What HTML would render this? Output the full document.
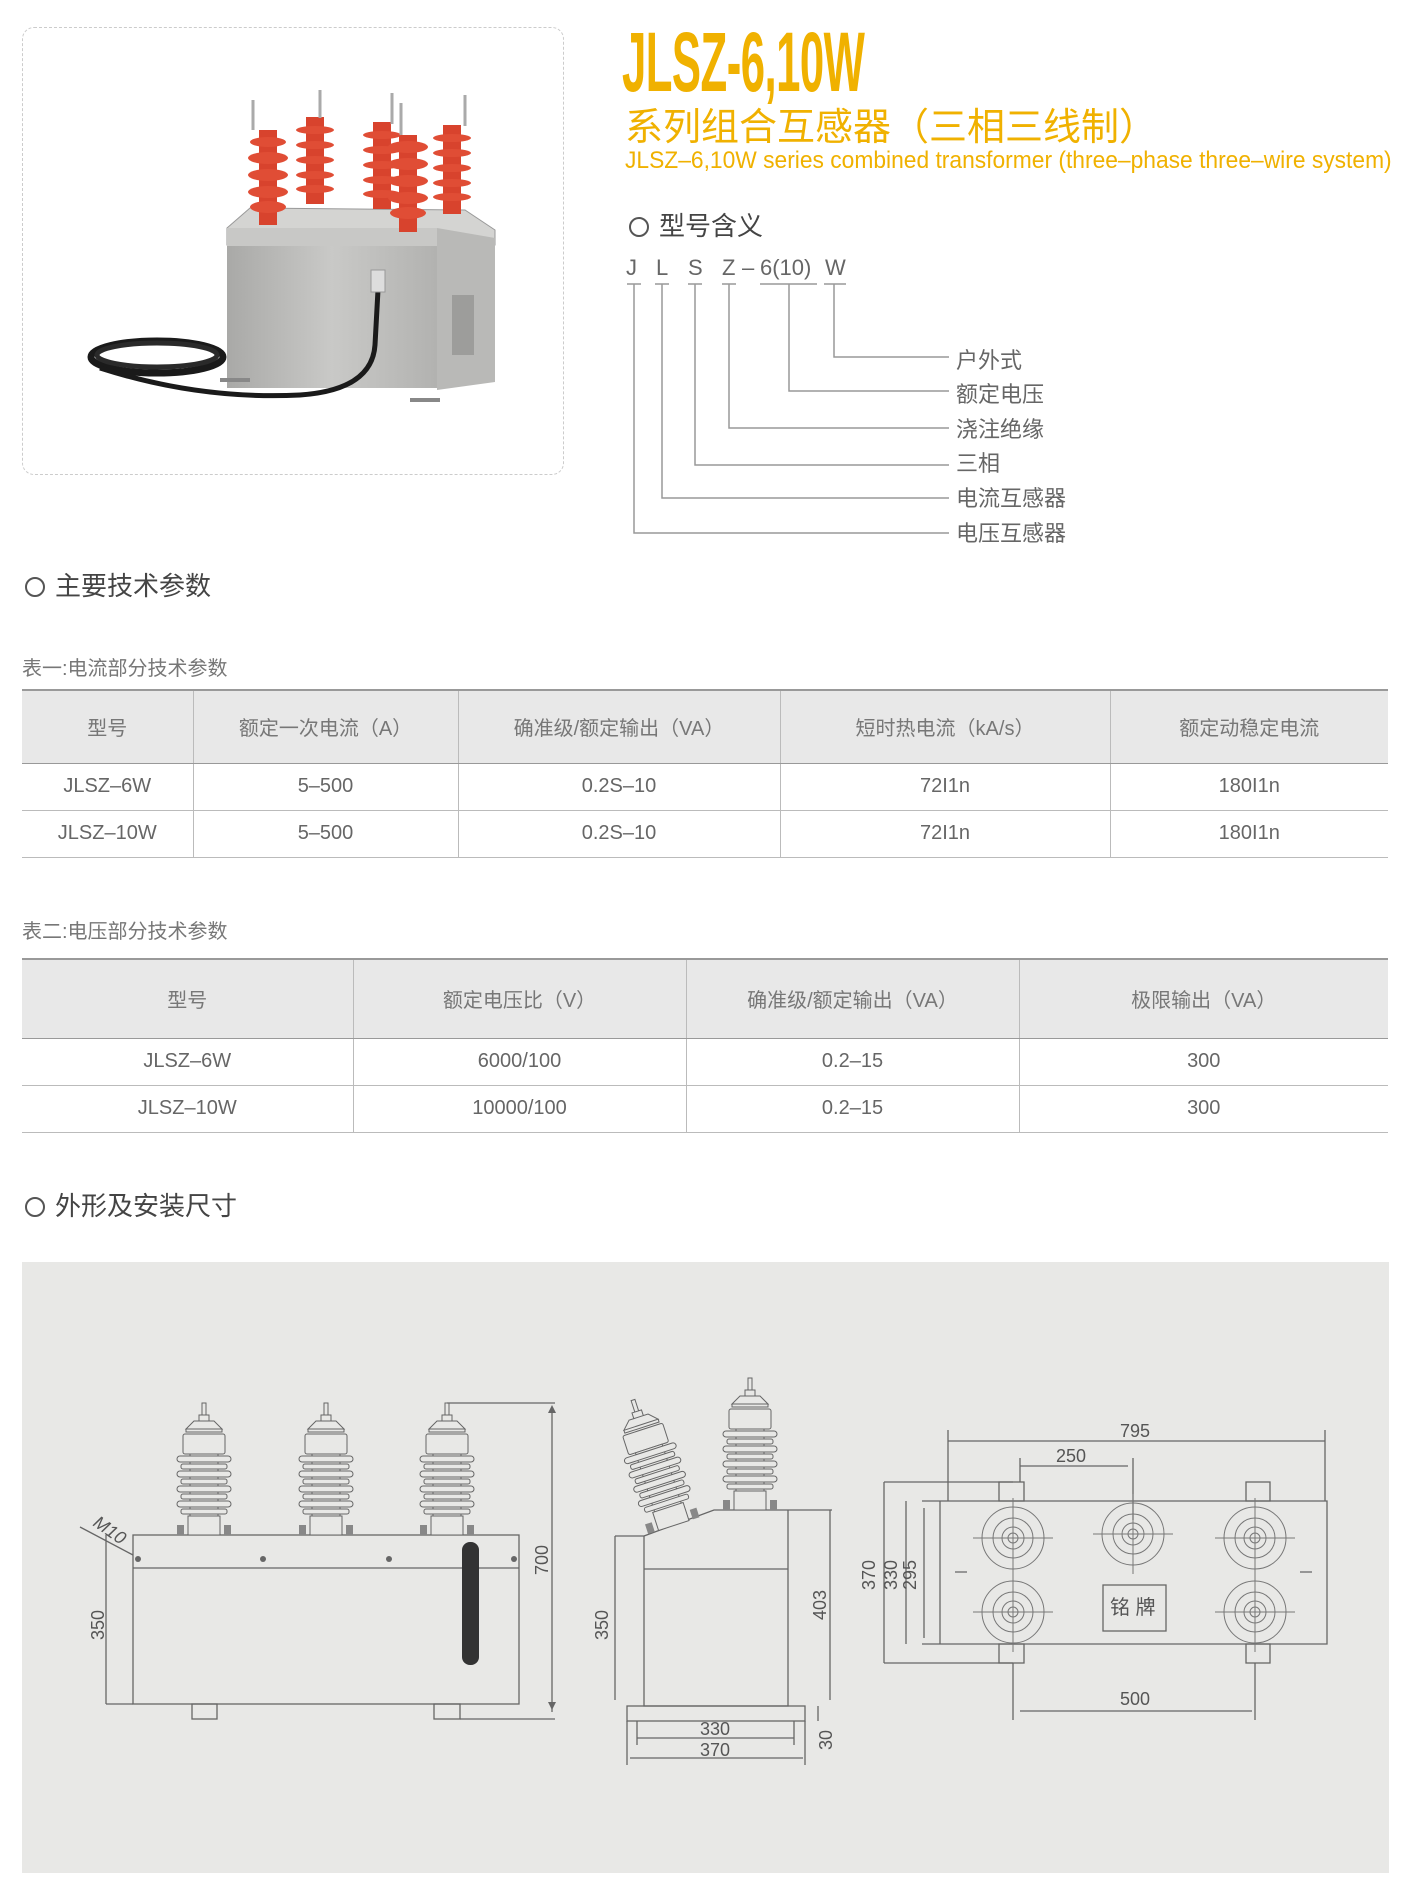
<!DOCTYPE html>
<html><head><meta charset="utf-8">
<style>
*{margin:0;padding:0;box-sizing:border-box}
body{width:1411px;height:1893px;background:#fff;position:relative;overflow:hidden;font-family:"Liberation Sans","Noto Sans CJK SC",sans-serif;color:#555}
.a{position:absolute;white-space:nowrap}
.h{font-size:26px;color:#444;line-height:30px}
.h i{display:inline-block;width:20px;height:20px;border:2px solid #555;border-radius:50%;margin-right:10px;vertical-align:-2px}
.cap{font-size:20px;color:#777}
table{border-collapse:collapse;position:absolute;left:22px;width:1366px;font-size:20px;color:#666}
td{text-align:center;border-left:1px solid #bbb;border-bottom:1px solid #bbb}
td:first-child{border-left:none}
tr.hd td{background:#e8e8e8;color:#777;border-bottom:1px solid #999}
table{border-top:2px solid #999}
.lb{font-size:22px;color:#666}
</style></head><body>

<!-- photo -->
<div class="a" style="left:22px;top:27px;width:542px;height:448px;border:1px dashed #ccc;border-radius:12px"></div>
<svg class="a" style="left:0;top:0" width="570" height="480" viewBox="0 0 570 480">
<defs><linearGradient id="g1" x1="0" x2="1"><stop offset="0" stop-color="#a9a9a7"/><stop offset=".5" stop-color="#c9c9c7"/><stop offset="1" stop-color="#b2b2b0"/></linearGradient></defs>
<polygon points="227,228 250,208 465,210 495,230 495,245 227,245" fill="#d4d4d2" stroke="#999"/>
<rect x="227" y="228" width="210" height="18" fill="#c8c8c6"/>
<rect x="227" y="246" width="210" height="142" fill="url(#g1)"/>
<polygon points="437,228 495,238 495,382 437,390" fill="#b9b9b7"/>
<rect x="452" y="295" width="22" height="60" fill="#9d9d9b"/>
<rect x="220" y="378" width="30" height="4" fill="#888"/><rect x="410" y="398" width="30" height="4" fill="#888"/>
<g fill="#d8432d">
<rect x="259" y="130" width="18" height="95"/><rect x="306" y="117" width="18" height="87"/><rect x="373" y="122" width="18" height="87"/><rect x="443" y="125" width="18" height="89"/><rect x="399" y="135" width="18" height="97"/>
</g>
<g fill="#e04d35">
<ellipse cx="268" cy="142" rx="18" ry="5"/><ellipse cx="268" cy="158" rx="20" ry="6"/><ellipse cx="268" cy="175" rx="20" ry="6"/><ellipse cx="268" cy="192" rx="20" ry="6"/><ellipse cx="268" cy="207" rx="18" ry="6"/>
<ellipse cx="315" cy="130" rx="19" ry="4"/><ellipse cx="315" cy="145" rx="19" ry="4"/><ellipse cx="315" cy="160" rx="19" ry="4"/><ellipse cx="315" cy="175" rx="19" ry="4"/><ellipse cx="315" cy="189" rx="19" ry="4"/>
<ellipse cx="382" cy="135" rx="19" ry="4"/><ellipse cx="382" cy="150" rx="19" ry="4"/><ellipse cx="382" cy="165" rx="19" ry="4"/><ellipse cx="382" cy="180" rx="19" ry="4"/><ellipse cx="382" cy="194" rx="19" ry="4"/>
<ellipse cx="452" cy="138" rx="19" ry="4"/><ellipse cx="452" cy="153" rx="19" ry="4"/><ellipse cx="452" cy="168" rx="19" ry="4"/><ellipse cx="452" cy="183" rx="19" ry="4"/><ellipse cx="452" cy="197" rx="19" ry="4"/>
<ellipse cx="408" cy="147" rx="20" ry="6"/><ellipse cx="408" cy="164" rx="20" ry="6"/><ellipse cx="408" cy="181" rx="20" ry="6"/><ellipse cx="408" cy="198" rx="20" ry="6"/><ellipse cx="408" cy="213" rx="18" ry="6"/>
</g>
<g stroke="#aaa" stroke-width="3"><line x1="253" y1="100" x2="253" y2="130"/><line x1="320" y1="90" x2="320" y2="118"/><line x1="392" y1="93" x2="392" y2="124"/><line x1="401" y1="103" x2="401" y2="135"/><line x1="465" y1="95" x2="465" y2="126"/></g>
<ellipse cx="157" cy="357" rx="66" ry="16" fill="none" stroke="#1a1a1a" stroke-width="7"/>
<ellipse cx="157" cy="355" rx="60" ry="12" fill="none" stroke="#2a2a2a" stroke-width="5"/>
<path d="M100,368 Q200,400 300,395 Q372,390 375,345 L378,290" fill="none" stroke="#1a1a1a" stroke-width="5"/>
<rect x="371" y="270" width="14" height="22" fill="#ddd" stroke="#999"/>
</svg>

<!-- title -->
<div class="a" style="left:622px;top:14px;font-size:84px;font-weight:bold;color:#f0b100;transform:scaleX(.52);transform-origin:left top;letter-spacing:-1px">JLSZ-6,10W</div>
<div class="a" style="left:625px;top:96px;font-size:38px;color:#f0b100">系列组合互感器（三相三线制）</div>
<div class="a" style="left:625px;top:147px;font-size:24px;color:#f0b100;transform:scaleX(.95);transform-origin:left top">JLSZ–6,10W series combined transformer (three–phase three–wire system)</div>

<div class="a h" style="left:629px;top:211px"><i></i>型号含义</div>
<div class="a" style="font-size:22px;color:#666;top:255px;left:625px">
<span class="a" style="left:1px">J</span><span class="a" style="left:31px">L</span><span class="a" style="left:63px">S</span><span class="a" style="left:97px">Z</span><span class="a" style="left:117px">–</span><span class="a" style="left:135px">6(10)</span><span class="a" style="left:200px">W</span></div>
<svg class="a" style="left:600px;top:280px" width="400" height="260">
<g stroke="#999" stroke-width="1.5" fill="none">
<path d="M27,4h14 M55,4h14 M88,4h14 M122,4h14 M160,4h57 M224,4h22"/>
<path d="M234,4V77H349 M189,4V111H349 M129,4V148H349 M95,4V185H349 M62,4V218H349 M34,4V253H349"/>
</g></svg>
<div class="a lb" style="left:956px;top:343px">户外式</div>
<div class="a lb" style="left:956px;top:377px">额定电压</div>
<div class="a lb" style="left:956px;top:412px">浇注绝缘</div>
<div class="a lb" style="left:956px;top:446px">三相</div>
<div class="a lb" style="left:956px;top:481px">电流互感器</div>
<div class="a lb" style="left:956px;top:516px">电压互感器</div>

<div class="a h" style="left:25px;top:571px"><i></i>主要技术参数</div>
<div class="a cap" style="left:22px;top:652px">表一:电流部分技术参数</div>
<table style="top:689px">
<tr class="hd" style="height:73px"><td style="width:171px">型号</td><td style="width:265px">额定一次电流（A）</td><td style="width:322px">确准级/额定输出（VA）</td><td style="width:330px">短时热电流（kA/s）</td><td>额定动稳定电流</td></tr>
<tr style="height:47px"><td>JLSZ–6W</td><td>5–500</td><td>0.2S–10</td><td>72I1n</td><td>180I1n</td></tr>
<tr style="height:47px"><td>JLSZ–10W</td><td>5–500</td><td>0.2S–10</td><td>72I1n</td><td>180I1n</td></tr>
</table>

<div class="a cap" style="left:22px;top:915px">表二:电压部分技术参数</div>
<table style="top:958px">
<tr class="hd" style="height:79px"><td style="width:331px">型号</td><td style="width:333px">额定电压比（V）</td><td style="width:333px">确准级/额定输出（VA）</td><td>极限输出（VA）</td></tr>
<tr style="height:47px"><td>JLSZ–6W</td><td>6000/100</td><td>0.2–15</td><td>300</td></tr>
<tr style="height:47px"><td>JLSZ–10W</td><td>10000/100</td><td>0.2–15</td><td>300</td></tr>
</table>

<div class="a h" style="left:25px;top:1191px"><i></i>外形及安装尺寸</div>

<!-- drawing -->
<div class="a" style="left:22px;top:1262px;width:1367px;height:611px;background:#e8e8e6"></div>
<svg class="a" style="left:0;top:0" width="1411" height="1893" viewBox="0 0 1411 1893">
<defs>
<g id="ins">
<path d="M-2,0h4v12h-4z M-5,12h10v6h-10z M-10,18 L-18,26 h36 L10,18z M-18,26h36v3h-36z" fill="none" stroke="#666"/>
<rect x="-21" y="31" width="42" height="20" fill="#e8e8e6" stroke="#666" rx="2"/>
<rect x="-14" y="51" width="28" height="64" fill="#e8e8e6" stroke="#666"/>
<g fill="#e8e8e6" stroke="#666">
<rect x="-27" y="53" width="54" height="6" rx="3"/><rect x="-23" y="61" width="46" height="5" rx="2"/>
<rect x="-27" y="68" width="54" height="6" rx="3"/><rect x="-23" y="76" width="46" height="5" rx="2"/>
<rect x="-27" y="83" width="54" height="6" rx="3"/><rect x="-23" y="91" width="46" height="5" rx="2"/>
<rect x="-27" y="98" width="54" height="6" rx="3"/><rect x="-23" y="106" width="46" height="5" rx="2"/>
</g>
<rect x="-16" y="113" width="32" height="19" fill="#e8e8e6" stroke="#666"/>
<rect x="-27" y="122" width="7" height="10" fill="#888"/><rect x="20" y="122" width="7" height="10" fill="#888"/>
</g>
<g id="tc" fill="none" stroke="#777">
<circle r="31"/><circle r="20"/><circle r="11"/><circle r="5"/>
<line x1="-40" x2="40"/><line y1="-40" y2="40"/>
</g>
</defs>
<g stroke="#666" stroke-width="1.3" fill="none">
<rect x="133" y="1535" width="386" height="169"/>
<line x1="133" y1="1568" x2="519" y2="1568"/>
<rect x="192" y="1704" width="25" height="15"/><rect x="434" y="1704" width="26" height="15"/>
<path d="M447,1403H555 M460,1719H555 M552,1410V1712 M106,1535V1704 M106,1704H133 M80,1527L133,1555"/>
</g>
<use href="#ins" x="204" y="1403"/><use href="#ins" x="326" y="1403"/><use href="#ins" x="447" y="1403"/>
<rect x="462" y="1542" width="17" height="123" rx="8" fill="#333"/>
<g fill="#666"><circle cx="138" cy="1559" r="3"/><circle cx="263" cy="1559" r="3"/><circle cx="389" cy="1559" r="3"/><circle cx="514" cy="1559" r="3"/>
<path d="M552,1405l-4,8h8z M552,1710l-4,-8h8z"/></g>
<g font-size="18" fill="#555" font-family="Liberation Sans,sans-serif">
<text transform="translate(548,1575) rotate(-90)">700</text>
<text transform="translate(104,1640) rotate(-90)">350</text>
<text transform="translate(92,1525) rotate(35)" font-style="italic">M10</text>
</g>
<g stroke="#666" stroke-width="1.3" fill="none">
<path d="M644,1536L714,1510H832 M644,1536V1706H788V1510 M644,1569H788 M615,1536H644"/>
<rect x="627" y="1706" width="178" height="15"/>
<path d="M615,1536V1700 M830,1510V1700 M818,1706V1721 M637,1738H794 M630,1758H803 M627,1721V1765 M805,1721V1765 M637,1721V1745 M794,1721V1745"/>
</g>
<use href="#ins" x="750" y="1378"/>
<use href="#ins" transform="translate(633,1400) rotate(-18)"/>
<g font-size="18" fill="#555">
<text transform="translate(608,1640) rotate(-90)">350</text>
<text transform="translate(826,1620) rotate(-90)">403</text>
<text transform="translate(832,1750) rotate(-90)">30</text>
<text x="700" y="1735">330</text><text x="700" y="1756">370</text>
</g>
<g stroke="#666" stroke-width="1.3" fill="none">
<path d="M922,1501H1327V1644H922 M940,1501V1644"/>
<rect x="999" y="1482" width="25" height="19"/><rect x="1246" y="1482" width="24" height="19"/>
<rect x="999" y="1644" width="25" height="19"/><rect x="1246" y="1644" width="24" height="19"/>
<rect x="1103" y="1585" width="63" height="46"/>
<path d="M884,1482H1013 M884,1663H1013 M948,1441H1325 M1020,1466H1128 M1020,1711H1252 M884,1482V1663 M906,1501V1644 M924,1508V1638 M948,1430V1501 M1325,1430V1501 M1020,1458V1482 M1133,1458V1520 M1013,1663V1720 M1255,1663V1720"/>
<path d="M955,1572h12 M1300,1572h12"/>
</g>
<use href="#tc" x="1013" y="1538"/><use href="#tc" x="1133" y="1534"/><use href="#tc" x="1255" y="1538"/>
<use href="#tc" x="1013" y="1612"/><use href="#tc" x="1255" y="1612"/>
<g font-size="18" fill="#555">
<text x="1120" y="1437">795</text><text x="1056" y="1462">250</text><text x="1120" y="1705">500</text>
<text transform="translate(875,1590) rotate(-90)">370</text>
<text transform="translate(897,1590) rotate(-90)">330</text>
<text transform="translate(916,1590) rotate(-90)">295</text>
<text x="1110" y="1614" font-size="20">铭 牌</text>
</g>
</svg>
</body></html>
